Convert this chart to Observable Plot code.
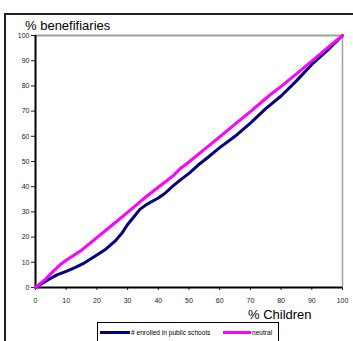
<!DOCTYPE html>
<html>
<head>
<meta charset="utf-8">
<script src="https://cdn.jsdelivr.net/npm/d3@7"></script>
<script src="https://cdn.jsdelivr.net/npm/@observablehq/plot@0.6"></script>
<style>
  html, body { margin: 0; padding: 0; background: #fff; }
  #wrap { position: relative; width: 353px; height: 341px; overflow: hidden; font-family: "Liberation Sans", Arial, sans-serif; }
  #outer { position: absolute; left: 4px; top: 13px; width: 420px; height: 420px; border-left: 2px solid #222; border-top: 2px solid #222; box-sizing: border-box; }
  #chart { position: absolute; left: 0; top: 0; }
  .ttl { position: absolute; font-size: 13px; color: #000; white-space: nowrap; line-height: 1; }
  #legend { position: absolute; left: 97px; top: 322px; width: 182px; height: 24px; border: 1px solid #000; box-sizing: border-box; background: #fff; }
  .item { position: absolute; top: 6px; font-size: 6.6px; white-space: nowrap; display: flex; align-items: center; }
  .item span.sw { display: inline-block; width: 30px; height: 3px; margin-right: 1px; }
</style>
</head>
<body>
<div id="wrap">
  <div id="outer"></div>
  <div id="chart"></div>
  <div class="ttl" id="ytitle" style="left:25px; top:19px;"></div>
  <div class="ttl" id="xtitle" style="left:248px; top:308px;"></div>
  <div id="legend"></div>
</div>
<script>
// ---- data ----
const enrolledX = [0, 2, 4, 7, 10, 13, 16, 20, 23, 26, 28, 30, 32, 34, 36, 38, 40, 42, 45, 47, 50, 53, 56, 60, 65, 70, 75, 80, 85, 90, 95, 100];
const enrolledY = [0, 1.5, 3, 5, 6.4, 8, 9.8, 12.9, 15.3, 18.5, 21.3, 25, 28, 31, 32.8, 34.2, 35.5, 37.2, 40.5, 42.5, 45.3, 48.6, 51.5, 55.5, 60, 65.2, 71, 76, 82, 88.5, 94, 100];
const neutralX = [0, 3, 5, 8, 10, 15, 20, 25, 30, 35, 40, 45, 47, 50, 55, 60, 65, 70, 75, 77, 80, 85, 90, 95, 100];
const neutralY = [0, 3, 5.5, 9, 10.8, 14.8, 19.8, 24.8, 29.8, 35, 39.8, 44.5, 47, 49.8, 54.8, 59.8, 64.8, 69.8, 75, 77, 79.8, 84.8, 89.8, 95, 100];
const seriesNames = ["# enrolled in public schools", "neutral"];
const seriesColors = ["#000080", "#ff00ff"];
const xTicks = [0, 10, 20, 30, 40, 50, 60, 70, 80, 90, 100];
const yTicks = [0, 10, 20, 30, 40, 50, 60, 70, 80, 90, 100];
const xTitle = "% Children";
const yTitle = "% benefifiaries";

const enrolled = enrolledX.map((x, i) => ({x, y: enrolledY[i]}));
const neutral = neutralX.map((x, i) => ({x, y: neutralY[i]}));

const chart = Plot.plot({
  width: 353,
  height: 341,
  marginLeft: 35,
  marginTop: 35,
  marginRight: 11,
  marginBottom: 54,
  style: { fontFamily: "'Liberation Sans', Arial, sans-serif", fontSize: "7px", color: "#222", background: "transparent", overflow: "visible" },
  x: { domain: [0, 100], ticks: xTicks, tickSize: 3, tickPadding: 8, label: null },
  y: { domain: [0, 100], ticks: yTicks, tickSize: 4, tickPadding: 2, label: null },
  marks: [
    Plot.ruleY([100], { stroke: "#a0a0a0", strokeWidth: 2 }),
    Plot.ruleX([100], { stroke: "#a0a0a0", strokeWidth: 1.5 }),
    Plot.ruleX([0], { stroke: "#000", strokeWidth: 2 }),
    Plot.ruleY([0], { stroke: "#000", strokeWidth: 2 }),
    Plot.line(enrolled, { x: "x", y: "y", stroke: seriesColors[0], strokeWidth: 3 }),
    Plot.line(neutral, { x: "x", y: "y", stroke: seriesColors[1], strokeWidth: 3 })
  ]
});
document.getElementById("chart").appendChild(chart);
document.getElementById("xtitle").textContent = xTitle;
document.getElementById("ytitle").textContent = yTitle;

const legend = document.getElementById("legend");
const lefts = [2, 125];
seriesNames.forEach((name, i) => {
  const d = document.createElement("div");
  d.className = "item";
  d.style.left = lefts[i] + "px";
  const sw = document.createElement("span");
  sw.className = "sw";
  sw.style.background = seriesColors[i];
  if (i === 1) sw.style.width = "28px";
  d.appendChild(sw);
  d.appendChild(document.createTextNode(name));
  legend.appendChild(d);
});
</script>
</body>
</html>
